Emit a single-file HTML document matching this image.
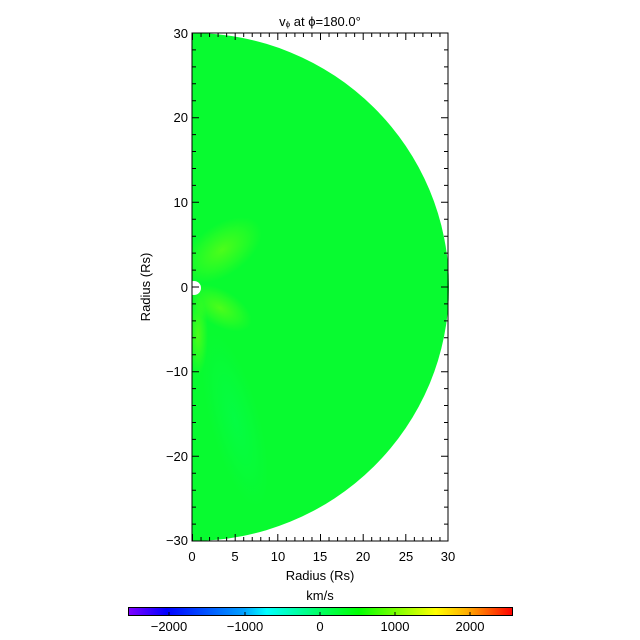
<!DOCTYPE html>
<html><head><style>body{margin:0;background:#fff}svg{display:block}text{font-family:"Liberation Sans",sans-serif;font-size:13px;fill:#000}</style></head><body>
<svg width="640" height="640" viewBox="0 0 640 640" xmlns="http://www.w3.org/2000/svg">
<defs>
<linearGradient id="cb" x1="0" x2="1" y1="0" y2="0">
<stop offset="0" stop-color="#8000ff"/><stop offset="0.1" stop-color="#0000ff"/>
<stop offset="0.3" stop-color="#00a0ff"/><stop offset="0.36" stop-color="#00ffff"/>
<stop offset="0.5" stop-color="#00ff60"/><stop offset="0.6" stop-color="#00ff00"/>
<stop offset="0.75" stop-color="#c0ff00"/><stop offset="0.8" stop-color="#ffff00"/>
<stop offset="0.88" stop-color="#ffb000"/><stop offset="1" stop-color="#ff0000"/>
</linearGradient>
<radialGradient id="y1" cx="0.5" cy="0.5" r="0.5"><stop offset="0" stop-color="#a0ff00" stop-opacity="0.45"/><stop offset="1" stop-color="#a0ff00" stop-opacity="0"/></radialGradient>
<radialGradient id="c1" cx="0.5" cy="0.5" r="0.5"><stop offset="0" stop-color="#00ff60" stop-opacity="0.4"/><stop offset="1" stop-color="#00ff60" stop-opacity="0"/></radialGradient>
<clipPath id="cp"><path d="M192 33 A257 254 0 0 1 192 541 Z"/></clipPath>
</defs>
<path d="M192 33 A257 254 0 0 1 192 541 Z" fill="#08fb30"/>
<g clip-path="url(#cp)">
<ellipse cx="222" cy="250" rx="45" ry="25" fill="url(#y1)" transform="rotate(-35 222 250)"/>
<ellipse cx="220" cy="308" rx="35" ry="18" fill="url(#y1)" transform="rotate(30 220 308)"/>
<ellipse cx="198" cy="335" rx="10" ry="40" fill="url(#y1)"/>
<ellipse cx="235" cy="420" rx="25" ry="90" fill="url(#c1)" transform="rotate(-15 235 420)"/>
</g>
<ellipse cx="194" cy="288" rx="7" ry="7" fill="#fff"/>
<rect x="192" y="33" width="256" height="508" fill="none" stroke="#000" stroke-width="1"/>
<g stroke="#000" stroke-width="1">
<path d="M192.5 541v-7M235.2 541v-7M277.8 541v-7M320.5 541v-7M363.2 541v-7M405.8 541v-7M192.5 33v7M235.2 33v7M277.8 33v7M320.5 33v7M363.2 33v7M405.8 33v7"/>
<path d="M192 33h7M192 117.7h7M192 202.3h7M192 287h7M192 371.7h7M192 456.3h7M448 33h-7M448 117.7h-7M448 202.3h-7M448 287h-7M448 371.7h-7M448 456.3h-7"/>
</g>
<g id="minor" stroke="#000" stroke-width="1"></g>
<script>
var g=document.getElementById('minor'),d='';
for(var i=1;i<30;i++){if(i%5==0)continue;var x=192.5+i*256/30;d+='M'+x+' 541v-4M'+x+' 33v4';}
for(var j=1;j<30;j++){if(j%5==0)continue;var y=33+j*508/30;d+='M192 '+y+'h4M448 '+y+'h-4';}
var p=document.createElementNS('http://www.w3.org/2000/svg','path');p.setAttribute('d',d);g.appendChild(p);
</script>
<g text-anchor="end">
<text x="188" y="38">30</text><text x="188" y="122">20</text><text x="188" y="207">10</text>
<text x="188" y="292">0</text><text x="188" y="376">−10</text><text x="188" y="461">−20</text><text x="188" y="545">−30</text>
</g>
<g text-anchor="middle">
<text x="192" y="561">0</text><text x="235" y="561">5</text><text x="278" y="561">10</text><text x="320" y="561">15</text>
<text x="363" y="561">20</text><text x="406" y="561">25</text><text x="448" y="561">30</text>
<text x="320" y="580">Radius (Rs)</text>
<text x="320" y="26" font-size="16">v<tspan font-size="8" dy="1">ϕ</tspan><tspan dy="-1"> at ϕ=180.0°</tspan></text>
<text x="320" y="600">km/s</text>
<text x="169" y="631" font-size="11">−2000</text><text x="245" y="631" font-size="11">−1000</text>
<text x="320" y="631" font-size="11">0</text><text x="395" y="631" font-size="11">1000</text><text x="470" y="631" font-size="11">2000</text>
</g>
<text transform="translate(150 287) rotate(-90)" text-anchor="middle">Radius (Rs)</text>
<rect x="128.5" y="607.5" width="384" height="8" fill="url(#cb)" stroke="#000"/>
<g stroke="#000"><path d="M169 615v-3M245 615v-3M320 615v-3M395 615v-3M470 615v-3"/></g>
</svg>
</body></html>
